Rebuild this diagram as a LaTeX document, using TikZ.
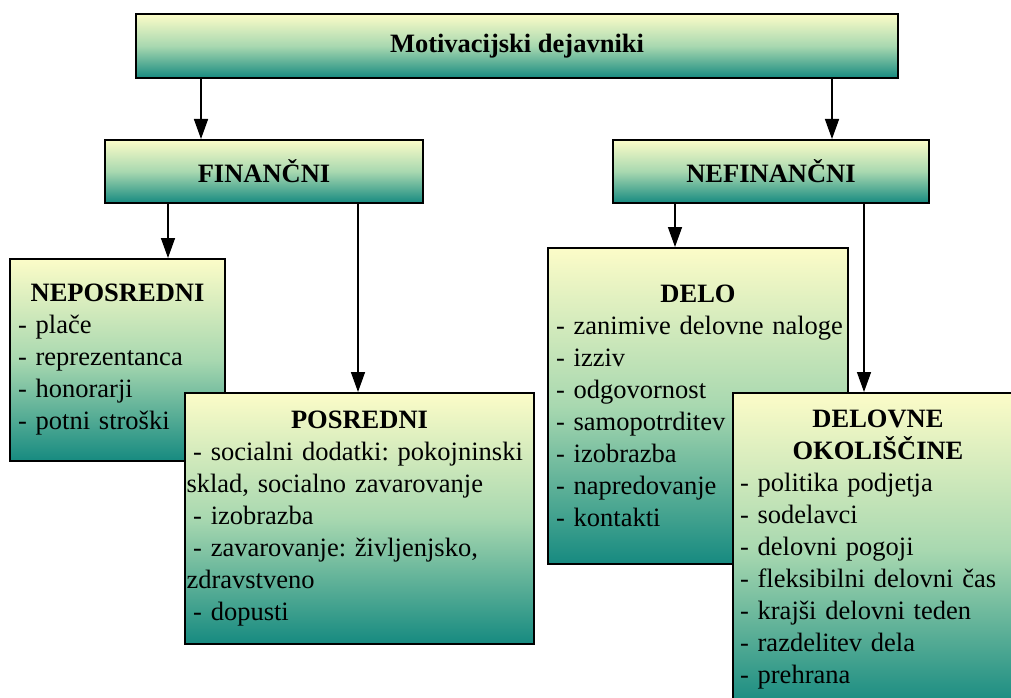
\documentclass[tikz,border=0pt]{standalone}
\usepackage{fontspec}
\setmainfont{Liberation Serif}
\usetikzlibrary{arrows.meta,positioning}
\setlength{\parindent}{0pt}
\frenchspacing
\definecolor{boxtop}{HTML}{FCFCC8}
\definecolor{boxmid}{HTML}{A8D8B0}
\definecolor{boxbot}{HTML}{168A80}

\begin{document}
\begin{tikzpicture}[x=1pt,y=-1pt,>={Triangle[length=20pt,width=14pt]},
  font=\fontsize{26.5}{32}\selectfont,
  box/.style={draw=black,line width=2pt,top color=boxtop,bottom color=boxbot,middle color=boxmid,anchor=north west,inner sep=0pt},
  listbox/.style={box,align=left,inner xsep=#1},
  arr/.style={->,line width=1.5pt}]
\useasboundingbox (0,0) rectangle (1011,698);
\clip (0,0) rectangle (1011,698);
% upper levels
\node[box,minimum width=762pt,minimum height=64pt,font=\fontsize{26.5}{32}\selectfont\bfseries] (mot) at (135,13) {Motivacijski dejavniki};
\node[box,minimum width=318pt,minimum height=63pt,font=\fontsize{26.5}{32}\selectfont\bfseries] (fin) at (104,139) {FINANČNI};
\node[box,minimum width=316pt,minimum height=63pt,font=\fontsize{26.5}{32}\selectfont\bfseries] (nefin) at (612,139) {NEFINANČNI};
% financial
\node[listbox=8pt,text width=199pt,minimum height=202pt] (nep) at (9,258)
  {{\centering\bfseries NEPOSREDNI\par}\raggedright- plače\\ - reprezentanca\\ - honorarji\\ - potni stroški};
\node[listbox=1.5pt,text width=346pt,minimum height=251pt] (pos) at (184,392)
  {{\centering\bfseries POSREDNI\par}\raggedright\hspace*{6.6pt}- socialni dodatki: pokojninski\\ sklad, socialno zavarovanje\\ \hspace*{6.6pt}- izobrazba\\ \hspace*{6.6pt}- zavarovanje: življenjsko,\\ zdravstveno\\ \hspace*{6.6pt}- dopusti};
% non-financial
\node[listbox=8pt,text width=284pt,minimum height=316pt] (delo) at (547,247)
  {{\centering\bfseries DELO\par}\raggedright\mbox{- zanimive delovne naloge}\\ - izziv\\ - odgovornost\\ - samopotrditev\\ - izobrazba\\ - napredovanje\\ - kontakti};
\node[listbox=7pt,text width=276pt,minimum height=314pt] (okol) at (732,392)
  {{\centering\bfseries DELOVNE\\ OKOLIŠČINE\par}\raggedright- politika podjetja\\ - sodelavci\\ - delovni pogoji\\ - fleksibilni delovni čas\\ - krajši delovni teden\\ - razdelitev dela\\ - prehrana};
% arrows
\draw[arr] (mot.south -| 201,0) -- (fin.north -| 201,0);
\draw[arr] (mot.south -| 832,0) -- (nefin.north -| 832,0);
\draw[arr] (fin.south -| 168,0) -- (nep.north -| 168,0);
\draw[arr] (fin.south -| 358,0) -- (pos.north -| 358,0);
\draw[arr] (nefin.south -| 675,0) -- (delo.north -| 675,0);
\draw[arr] (nefin.south -| 864,0) -- (okol.north -| 864,0);
\end{tikzpicture}
\end{document}
